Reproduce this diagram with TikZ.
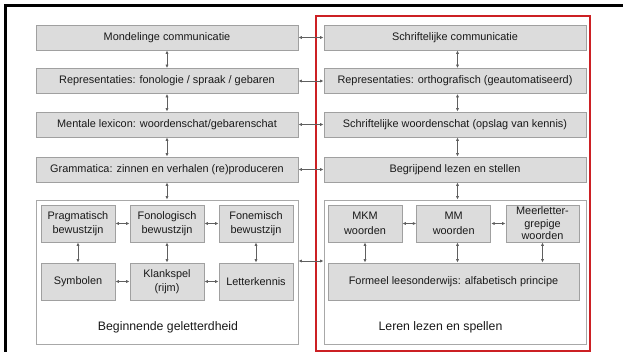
\documentclass[tikz,border=0pt]{standalone}
\usepackage{fontspec}
\setmainfont{Liberation Sans}
\usetikzlibrary{arrows.meta}
\definecolor{boxfill}{RGB}{220,220,220}
\definecolor{boxline}{RGB}{160,160,160}
\definecolor{contline}{RGB}{168,168,168}
\definecolor{arrowcol}{RGB}{95,95,95}
\definecolor{redline}{RGB}{204,32,36}
\definecolor{txt}{RGB}{25,25,25}
\begin{document}
\begin{tikzpicture}[x=1pt,y=-1pt,
  gbox/.style={draw=boxline,fill=boxfill,line width=0.9pt,inner sep=0pt,text=txt,
    font=\fontsize{10.9}{14.5}\selectfont,align=center},
  wide/.style={gbox,minimum width=262pt,minimum height=25pt},
  small/.style={gbox,minimum width=74pt,minimum height=37pt},
  cont/.style={draw=contline,line width=0.9pt,fill=white,inner sep=0pt},
  lbl/.style={text=txt,font=\fontsize{12.3}{14}\selectfont,inner sep=0pt},
  conn/.style={draw=arrowcol,line width=0.9pt,{Latex[length=3.5pt,width=3.2pt]}-{Latex[length=3.5pt,width=3.2pt]}}
]
\useasboundingbox (0,0) rectangle (623,352);
\fill[white] (0,0) rectangle (623,352);
% outer black frame (partly cut)
\draw[line width=2.6pt,black] (5.5,352) -- (5.5,5.5) -- (623,5.5);
% red frame
\node[draw=redline,line width=1.4pt,minimum width=274pt,minimum height=335pt,inner sep=0pt] (redbox) at (453,183.5) {};

% left column
\node[wide] (l1) at (167,37.5) {Mondelinge communicatie};
\node[wide] (l2) at (167,81) {Representaties: fonologie / spraak / gebaren};
\node[wide] (l3) at (167,124.5) {Mentale lexicon: woordenschat/gebarenschat};
\node[wide] (l4) at (167,169.5) {Grammatica: zinnen en verhalen (re)produceren};
% right column
\node[wide] (r1) at (455,37.5) {Schriftelijke communicatie};
\node[wide] (r2) at (455,81) {Representaties: orthografisch (geautomatiseerd)};
\node[wide] (r3) at (455,124.5) {Schriftelijke woordenschat (opslag van kennis)};
\node[wide] (r4) at (455,169.5) {Begrijpend lezen en stellen};

% containers
\node[cont,minimum width=262pt,minimum height=144pt] (lc) at (167,272) {};
\node[cont,minimum width=262pt,minimum height=144pt] (rc) at (455,272) {};

% left inner boxes
\node[small] (prag) at (78,223.5) {Pragmatisch\\bewustzijn};
\node[small] (fonol) at (167,223.5) {Fonologisch\\bewustzijn};
\node[small] (fonem) at (256,223.5) {Fonemisch\\bewustzijn};
\node[small] (symb) at (78,281.5) {Symbolen};
\node[small] (klank) at (167,281.5) {Klankspel\\(rijm)};
\node[small] (letter) at (256,281.5) {Letterkennis};
\node[lbl] (lcl) at (168,327) {Beginnende geletterdheid};

% right inner boxes
\node[small] (mkm) at (365,223.5) {MKM\\woorden};
\node[small] (mm) at (453.7,223.5) {MM\\woorden};
\node[small,minimum width=73pt,font=\fontsize{10.9}{12.5}\selectfont] (meer) at (542.5,223.5) {Meerletter-\\grepige\\woorden};
\node[gbox,minimum width=251pt,minimum height=37pt] (form) at (453.5,281.5) {Formeel leesonderwijs: alfabetisch principe};
\node[lbl] (rcl) at (440.5,327) {Leren lezen en spellen};

% helper coordinates
\coordinate (rx) at (457.5,0);
\coordinate (mmx) at (457.5,0);
\coordinate (ay) at (0,261);

% vertical arrows left column
\draw[conn] (l1.south) -- (l2.north);
\draw[conn] (l2.south) -- (l3.north);
\draw[conn] (l3.south) -- (l4.north);
\draw[conn] (l4.south) -- (lc.north);
% vertical arrows right column
\draw[conn] (r1.south -| rx) -- (r2.north -| rx);
\draw[conn] (r2.south -| rx) -- (r3.north -| rx);
\draw[conn] (r3.south -| rx) -- (r4.north -| rx);
\draw[conn] (r4.south -| rx) -- (rc.north -| rx);
% horizontal arrows between columns
\draw[conn] (l1.east) -- (r1.west);
\draw[conn] (l2.east) -- (r2.west);
\draw[conn] (l3.east) -- (r3.west);
\draw[conn] (l4.east) -- (r4.west);
\draw[conn] (lc.east |- ay) -- (rc.west |- ay);

% left inner arrows
\draw[conn] (prag.east) -- (fonol.west);
\draw[conn] (fonol.east) -- (fonem.west);
\draw[conn] (symb.east) -- (klank.west);
\draw[conn] (klank.east) -- (letter.west);
\draw[conn] (prag.south) -- (symb.north);
\draw[conn] (fonol.south) -- (klank.north);
\draw[conn] (fonem.south) -- (letter.north);

% right inner arrows
\draw[conn] (mkm.east) -- (mm.west);
\draw[conn] (mm.east) -- (meer.west);
\draw[conn] (mkm.south) -- (form.north -| mkm.south);
\draw[conn] (mm.south -| mmx) -- (form.north -| mmx);
\draw[conn] (meer.south) -- (form.north -| meer.south);
\end{tikzpicture}
\end{document}
